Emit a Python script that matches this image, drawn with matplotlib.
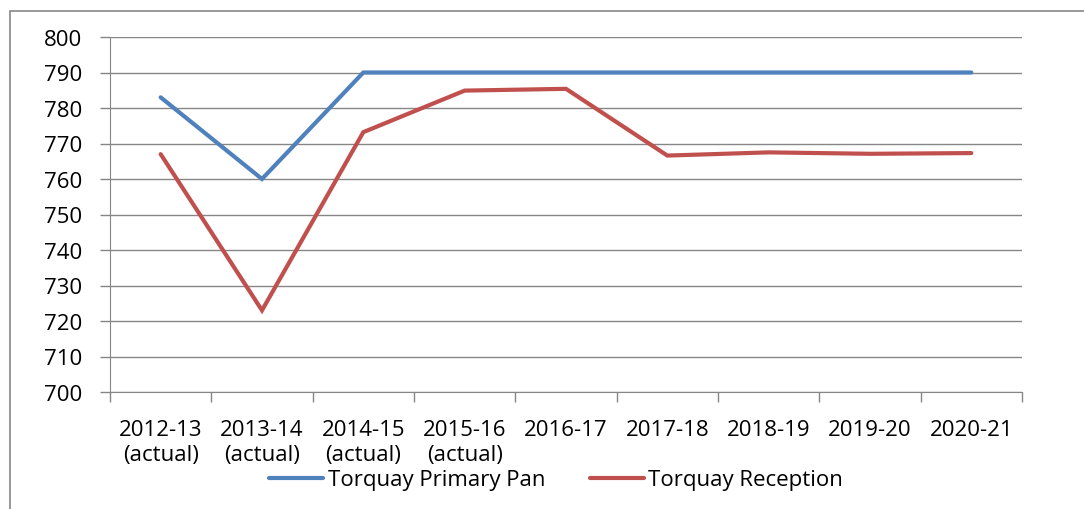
import matplotlib.pyplot as plt
from matplotlib.patches import Rectangle

categories = ["2012-13\n(actual)", "2013-14\n(actual)", "2014-15\n(actual)",
              "2015-16\n(actual)", "2016-17", "2017-18", "2018-19", "2019-20", "2020-21"]
primary_pan = [783, 760, 790, 790, 790, 790, 790, 790, 790]
reception = [767, 723, 773.2, 784.9, 785.4, 766.6, 767.5, 767.1, 767.3]

plt.rcParams['font.family'] = ['Open Sans', 'DejaVu Sans']
fs = 16

fig = plt.figure(figsize=(10.84, 5.10), dpi=100)
W, H = 1084, 510
ax = fig.add_axes([110 / W, 1 - 393 / H, (1022 - 110) / W, (393 - 38) / H])

x = [i + 0.5 for i in range(len(categories))]
ax.plot(x, primary_pan, color='#4F81BD', lw=3, solid_capstyle='round',
        solid_joinstyle='miter', label='Torquay Primary Pan')
ax.plot(x, reception, color='#C0504D', lw=3, solid_capstyle='round',
        solid_joinstyle='miter', label='Torquay Reception')

ax.set_xlim(0, len(categories))
ax.set_ylim(700, 800)
ax.set_yticks(range(700, 801, 10))
ax.yaxis.grid(True, color='#868686', lw=1)
ax.set_axisbelow(True)
ax.set_xticks(range(len(categories) + 1))
ax.set_xticklabels([])
for xi, lab in zip(x, categories):
    ax.text(xi, -0.075, lab, transform=ax.get_xaxis_transform(), ha='center',
            va='top', fontsize=fs, linespacing=1.3)
for s in ['top', 'right']:
    ax.spines[s].set_visible(False)
for s in ['left', 'bottom']:
    ax.spines[s].set_color('#868686')
ax.tick_params(axis='both', color='#868686', length=7, width=1, labelsize=fs)
ax.tick_params(axis='y', pad=13)

leg = fig.legend(loc='center', bbox_to_anchor=(556 / W, 1 - 481 / H), ncol=2,
                 frameon=False, fontsize=fs, handlelength=2.45,
                 handletextpad=0.2, columnspacing=2.0)

fig.patches.append(Rectangle((10 / W, -0.1), 1.2, 1 - 12 / H + 0.1,
                             transform=fig.transFigure, fill=False,
                             edgecolor='#868686', lw=1.2))

fig.savefig('out.png', dpi=100)
